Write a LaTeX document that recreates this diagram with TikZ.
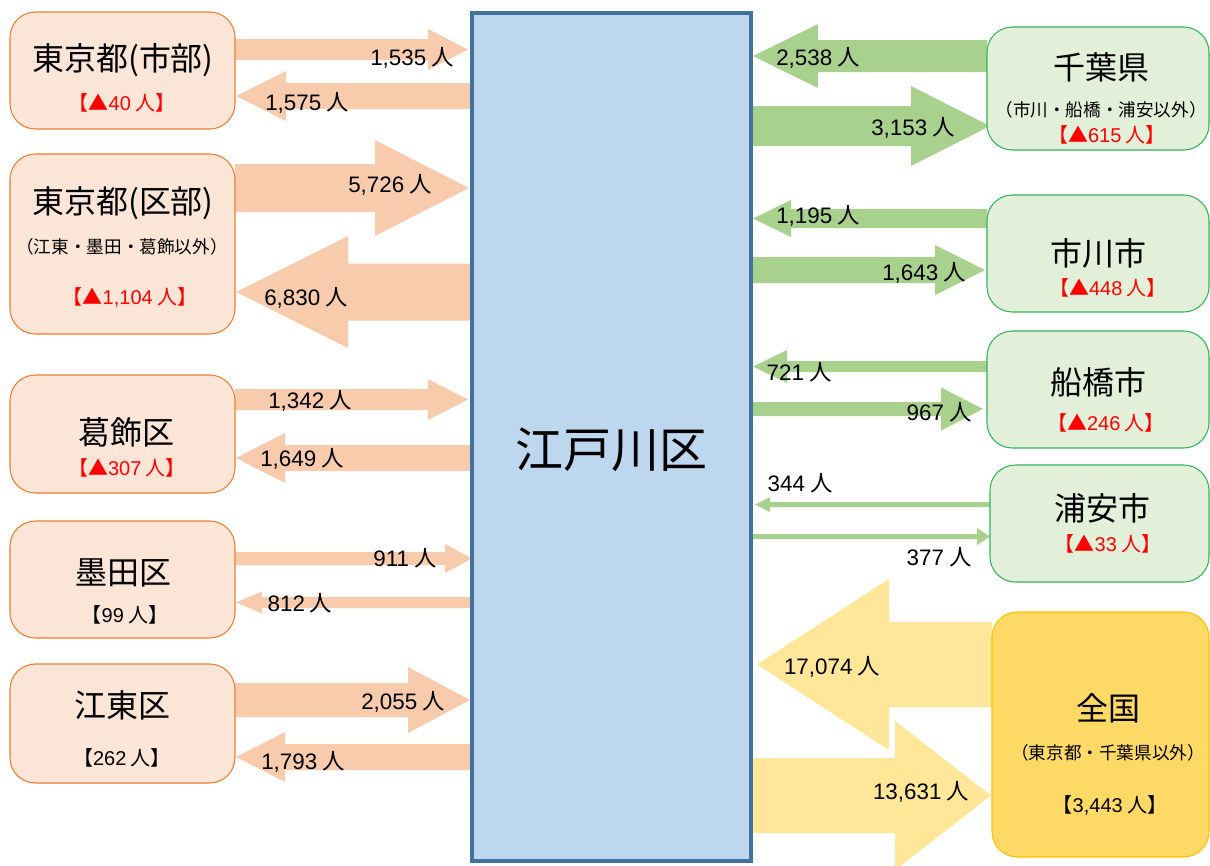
\documentclass[tikz,border=0pt]{standalone}
\usepackage{fontspec}
\setmainfont{Noto Sans CJK JP}
\newfontfamily\lat{Liberation Sans}
\definecolor{orF}{HTML}{FBE5D6}
\definecolor{orB}{HTML}{ED7D31}
\definecolor{orA}{HTML}{F8CBAD}
\definecolor{grF}{HTML}{E2F0D9}
\definecolor{grB}{HTML}{33B35A}
\definecolor{grA}{HTML}{A9D18E}
\definecolor{yeF}{HTML}{FFD966}
\definecolor{yeB}{HTML}{FFC000}
\definecolor{yeA}{HTML}{FFE699}
\definecolor{blF}{HTML}{BDD7EE}
\definecolor{blB}{HTML}{41719C}
\definecolor{redT}{HTML}{FF0000}
% block arrow: colour, x tail, x head base, x tip, y centre, shaft half, head half
\newcommand{\barr}[7]{\fill[#1] (#2,{#5-#6}) -- (#3,{#5-#6}) -- (#3,{#5-#7}) -- (#4,#5) -- (#3,{#5+#7}) -- (#3,{#5+#6}) -- (#2,{#5+#6}) -- cycle;}
% box: style, x0, y0, x1, y1, name
\newcommand{\bx}[6]{\node[#1, anchor=north west, minimum width={(#4-#2)*0.75pt}, minimum height={(#5-#3)*0.75pt}] (#6) at (#2,#3) {};}
\newcommand{\nm}[1]{{\lat #1} 人}
\begin{document}
\begin{tikzpicture}[x=0.75pt,y=-0.75pt,
  every node/.style={inner sep=0pt, outer sep=0pt},
  lbox/.style={draw=orB, fill=orF, line width=0.8pt, rounded corners=19pt},
  gbox/.style={draw=grB, fill=grF, line width=0.8pt, rounded corners=19pt},
  ybox/.style={draw=yeB, fill=yeF, line width=0.8pt, rounded corners=19pt},
  cbox/.style={draw=blB, fill=blF, line width=3pt},
  ttl/.style={font=\fontsize{24}{27}\selectfont},
  sub/.style={font=\fontsize{13.2}{15}\selectfont},
  red/.style={font=\fontsize{15}{17}\selectfont, text=redT},
  blk/.style={font=\fontsize{15}{17}\selectfont},
  num/.style={font=\fontsize{16.8}{18}\selectfont}]
\useasboundingbox (0,0) rectangle (1210,865);
\clip (0,0) rectangle (1210,865);

% ---- arrows, left side ----
\barr{orA}{235}{428}{468}{49.5}{10.5}{20.5}
\barr{orA}{471}{286}{236}{96}{13}{25}
\barr{orA}{235}{375}{469}{188}{24}{48}
\barr{orA}{471}{348}{236}{292}{28.5}{56}
\barr{orA}{235}{428}{468}{399.5}{10.5}{20.5}
\barr{orA}{471}{285}{236}{458}{13}{25}
\barr{orA}{235}{445}{472}{558.5}{6.5}{14.5}
\barr{orA}{471}{262}{236}{602.5}{5.5}{11}
\barr{orA}{235}{408}{470}{700}{17}{33}
\barr{orA}{471}{285}{236}{757}{13}{25}
% ---- arrows, right side ----
\barr{grA}{987}{818}{753}{56}{16}{32}
\barr{grA}{753}{911}{990}{126}{20}{40}
\barr{grA}{987}{791}{753}{218.5}{9.5}{18.5}
\barr{grA}{753}{935}{985}{270}{13}{25}
\barr{grA}{987}{787}{753}{366.5}{5.5}{16.5}
\barr{grA}{753}{941}{983}{409}{7}{21.5}
\barr{grA}{990}{770}{755}{504.5}{2.5}{7.5}
\barr{grA}{753}{977}{990}{536.5}{2.5}{8.5}
\barr{yeA}{992}{889}{757}{664.5}{42.5}{85.5}
\barr{yeA}{753}{895}{991}{795.5}{37.5}{74.5}

% ---- centre ----
\bx{cbox}{472}{13}{751}{861}{edo}
\node[font=\fontsize{36}{40}\selectfont] (edoT) at (611,450) {江戸川区};

% ---- left boxes ----
\bx{lbox}{10}{12}{235}{129}{tsh}
\node[ttl] (tshA) at (123,60) {東京都(市部)};
\node[red] (tshB) at (122,103) {【▲\nm{40}】};

\bx{lbox}{10}{154}{235}{334}{tku}
\node[ttl] (tkuA) at (123,203) {東京都(区部)};
\node[sub] (tkuB) at (122,247) {（江東・墨田・葛飾以外）};
\node[red] (tkuC) at (130,297) {【▲\nm{1,104}】};

\bx{lbox}{10}{375}{235}{493}{kat}
\node[ttl] (katA) at (126,432) {葛飾区};
\node[red] (katB) at (127,468) {【▲\nm{307}】};

\bx{lbox}{10}{521}{235}{638}{sum}
\node[ttl] (sumA) at (123,573) {墨田区};
\node[blk] (sumB) at (125,615) {【\nm{99}】};

\bx{lbox}{10}{664}{235}{783}{kot}
\node[ttl] (kotA) at (122,705) {江東区};
\node[blk] (kotB) at (122,758) {【\nm{262}】};

% ---- right boxes ----
\bx{gbox}{987}{27}{1209}{150}{chi}
\node[ttl] (chiA) at (1101,67) {千葉県};
\node[sub] (chiB) at (1101,110) {（市川・船橋・浦安以外）};
\node[red] (chiC) at (1107,135) {【▲\nm{615}】};

\bx{gbox}{987}{195}{1209}{312}{ich}
\node[ttl] (ichA) at (1098,253) {市川市};
\node[red] (ichB) at (1108,288) {【▲\nm{448}】};

\bx{gbox}{987}{331}{1209}{448}{fun}
\node[ttl] (funA) at (1098,382) {船橋市};
\node[red] (funB) at (1106,423) {【▲\nm{246}】};

\bx{gbox}{990}{465}{1209}{582}{ura}
\node[ttl] (uraA) at (1102,508) {浦安市};
\node[red] (uraB) at (1108,544) {【▲\nm{33}】};

\bx{ybox}{992}{612}{1209}{857}{zen}
\node[ttl] (zenA) at (1108,708) {全国};
\node[sub] (zenB) at (1108,753) {（東京都・千葉県以外）};
\node[blk] (zenC) at (1110,805) {【\nm{3,443}】};

% ---- flow labels ----
\node[num] (n1) at (412,58) {\nm{1,535}};
\node[num] (n2) at (307,103) {\nm{1,575}};
\node[num] (n3) at (390,185) {\nm{5,726}};
\node[num] (n4) at (306,298) {\nm{6,830}};
\node[num] (n5) at (310,401) {\nm{1,342}};
\node[num] (n6) at (302,459) {\nm{1,649}};
\node[num] (n7) at (405,558) {\nm{911}};
\node[num] (n8) at (300,603) {\nm{812}};
\node[num] (n9) at (403,702) {\nm{2,055}};
\node[num] (n10) at (303,762) {\nm{1,793}};
\node[num] (n11) at (818,58) {\nm{2,538}};
\node[num] (n12) at (913,128) {\nm{3,153}};
\node[num] (n13) at (818,216) {\nm{1,195}};
\node[num] (n14) at (924,273) {\nm{1,643}};
\node[num] (n15) at (799,372) {\nm{721}};
\node[num] (n16) at (939,412) {\nm{967}};
\node[num] (n17) at (800,483) {\nm{344}};
\node[num] (n18) at (939,557) {\nm{377}};
\node[num] (n19) at (832,667) {\nm{17,074}};
\node[num] (n20) at (921,792) {\nm{13,631}};
\end{tikzpicture}
\end{document}
